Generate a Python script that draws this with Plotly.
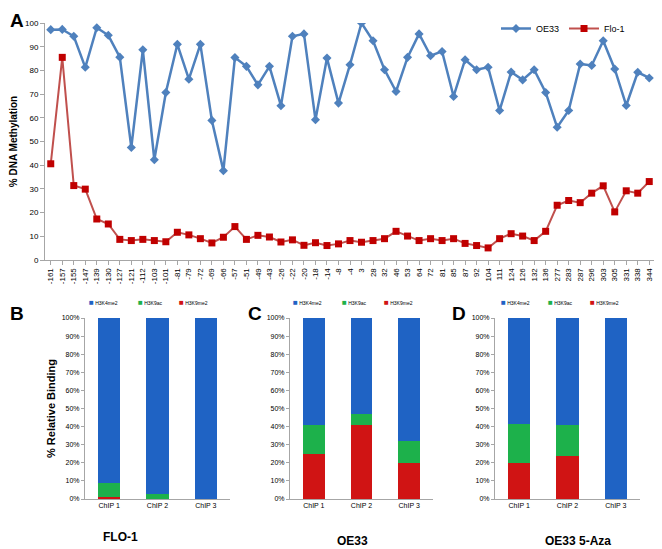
import plotly.graph_objects as go

# ---------------- data ----------------
positions = ["-161", "-157", "-155", "-147", "-139", "-130", "-127", "-121", "-112", "-103",
             "-101", "-81", "-79", "-72", "-69", "-66", "-57", "-51", "-49", "-43",
             "-26", "-22", "-20", "-18", "-14", "-8", "-4", "3", "28", "32",
             "46", "53", "64", "72", "81", "85", "87", "92", "104", "111",
             "124", "126", "132", "136", "277", "283", "287", "296", "303", "305",
             "331", "338", "344"]
oe33 = [97.2, 97.3, 94.4, 81.3, 98, 94.8, 85.6, 47.5, 88.7, 42.3,
        70.7, 91, 76.3, 91, 58.9, 37.7, 85.4, 81.7, 73.9, 81.7,
        65.1, 94.4, 95.4, 59.2, 85.2, 66.2, 82.4, 100, 92.5, 80.3,
        71.1, 85.5, 95.4, 86.2, 88, 69, 84.5, 80.3, 81.3, 63.1,
        79.3, 76, 80.3, 70.7, 56, 63.1, 82.7, 82.1, 92.5, 80.6,
        65.2, 79.2, 76.8]
flo1 = [40.6, 85.5, 31.4, 29.9, 17.3, 15.2, 8.7, 8.2, 8.7, 8.2,
        7.7, 11.7, 10.6, 9, 7.2, 9.6, 14.1, 8.7, 10.4, 9.7,
        7.6, 8.5, 6.2, 7.3, 6.1, 6.8, 8.2, 7.5, 8.2, 9,
        12.1, 10.1, 8.2, 9, 8.2, 9, 7, 6.1, 5.1, 9,
        11.1, 10.1, 8.2, 12.1, 23.1, 25.1, 24.2, 28.2, 31.3, 20.3,
        29.2, 28.2, 33.1]

chips = ["ChIP 1", "ChIP 2", "ChIP 3"]
marks = ["H3K4me2", "H3K9ac", "H3K9me2"]
# panel B: FLO-1
flo_k4 = [91, 97, 100]
flo_ac = [8, 3, 0]
flo_me = [1, 0, 0]
# panel C: OE33
oe_k4 = [59, 53, 68]
oe_ac = [16, 6, 12]
oe_me = [25, 41, 20]
# panel D: OE33 5-Aza
aza_k4 = [58.5, 59, 100]
aza_ac = [21.5, 17, 0]
aza_me = [20, 24, 0]

panel_titles = ["FLO-1", "OE33", "OE33 5-Aza"]

FONT = "Liberation Sans, Arial, sans-serif"
BLUE_LINE = "#4F81BD"
RED_LINE = "#C0504D"
RED_MK = "#C00000"
C_K4 = "#1F63C4"
C_AC = "#1DB14B"
C_ME = "#D01414"

# page body has an 8px margin: figure is sized to the visible area
W, H = 654, 541
OFF = 8


def px(sx):
    return (sx - OFF) / W


def py(sy):
    return 1 - (sy - OFF) / H


fig = go.Figure()

# ---------------- panel A ----------------
fig.add_trace(go.Scatter(x=positions, y=oe33, mode="lines+markers", name="OE33",
                         line=dict(color=BLUE_LINE, width=2.5),
                         marker=dict(symbol="diamond", size=7, color=BLUE_LINE),
                         xaxis="x", yaxis="y"))
fig.add_trace(go.Scatter(x=positions, y=flo1, mode="lines+markers", name="Flo-1",
                         line=dict(color=RED_LINE, width=2),
                         marker=dict(symbol="square", size=7, color=RED_MK),
                         xaxis="x", yaxis="y"))

# ---------------- panels B, C, D ----------------
panels = [(flo_k4, flo_ac, flo_me), (oe_k4, oe_ac, oe_me), (aza_k4, aza_ac, aza_me)]
colors = {marks[0]: C_K4, marks[1]: C_AC, marks[2]: C_ME}
for i, (k4, ac, me) in enumerate(panels):
    xa = "x%d" % (i + 2)
    ya = "y%d" % (i + 2)
    for name, vals in [(marks[2], me), (marks[1], ac), (marks[0], k4)]:
        fig.add_trace(go.Bar(x=chips, y=vals, name=name,
                             marker=dict(color=colors[name], line=dict(width=0)),
                             xaxis=xa, yaxis=ya, showlegend=False, width=0.46))

axis_line = dict(showline=True, linecolor="#A6A6A6", linewidth=1, showgrid=False, zeroline=False)

layout = dict(
    width=W, height=H,
    margin=dict(l=0, r=0, t=0, b=0, autoexpand=False),
    paper_bgcolor="white", plot_bgcolor="white",
    font=dict(family=FONT, color="black"),
    barmode="stack",
    xaxis=dict(domain=[px(45), px(655)], type="category", tickangle=-90,
               range=[-0.5, len(positions) - 0.5],
               tickmode="array", tickvals=positions, ticktext=positions,
               ticks="outside", ticklen=4, tickcolor="#A6A6A6",
               tickfont=dict(size=8, family=FONT), anchor="y", **axis_line),
    yaxis=dict(domain=[py(260), py(23)], range=[0, 100], dtick=10,
               ticks="outside", ticklen=4, tickcolor="#A6A6A6",
               tickfont=dict(size=8, family=FONT), anchor="x",
               title=dict(text="<b>% DNA Methylation</b>", font=dict(size=10), standoff=6),
               **axis_line),
    legend=dict(orientation="h", x=px(496), y=py(14), xanchor="left", yanchor="top",
                font=dict(size=9), bgcolor="rgba(0,0,0,0)", itemwidth=30,
                traceorder="normal"),
)

xdoms = [[px(85), px(230)], [px(290), px(433)], [px(495), px(640)]]
for i in range(3):
    n = i + 2
    layout["xaxis%d" % n] = dict(domain=xdoms[i], type="category", anchor="y%d" % n,
                                 tickfont=dict(size=7, family=FONT), ticks="",
                                 **axis_line)
    ydict = dict(domain=[py(499), py(318)], range=[0, 100], dtick=10, ticksuffix="%",
                 anchor="x%d" % n, tickfont=dict(size=7, family=FONT),
                 ticks="outside", ticklen=3, tickcolor="#A6A6A6", **axis_line)
    if i == 0:
        ydict["title"] = dict(text="<b>% Relative Binding</b>", font=dict(size=11), standoff=3)
    layout["yaxis%d" % n] = ydict

fig.update_layout(**layout)

# compact key rows above panels B, C, D (small coloured squares + labels)
key_x = [[87, 136, 177], [291, 340, 382], [499, 546, 588]]
for row in key_x:
    for sx, name in zip(row, marks):
        fig.add_annotation(
            text='<span style="color:%s;font-size:8px">■</span> %s' % (colors[name], name),
            x=px(sx), y=py(302), xref="paper", yref="paper",
            xanchor="left", yanchor="middle", showarrow=False,
            font=dict(size=5, family=FONT))

# panel letters and titles
letters = [("A", px(8), 1.0), ("B", px(8), py(301)), ("C", px(246), py(301)), ("D", px(450), py(301))]
for t, x, y in letters:
    fig.add_annotation(text="<b>%s</b>" % t, x=x, y=y, xref="paper", yref="paper",
                       xanchor="left", yanchor="top", showarrow=False,
                       font=dict(size=19, family=FONT))
title_pos = [(120, 537), (353, 541), (578, 541)]
for t, (sx, sy) in zip(panel_titles, title_pos):
    fig.add_annotation(text="<b>%s</b>" % t, x=px(sx), y=py(sy), xref="paper", yref="paper",
                       xanchor="center", yanchor="middle", showarrow=False,
                       font=dict(size=12, family=FONT))

fig.write_html("out.html")
